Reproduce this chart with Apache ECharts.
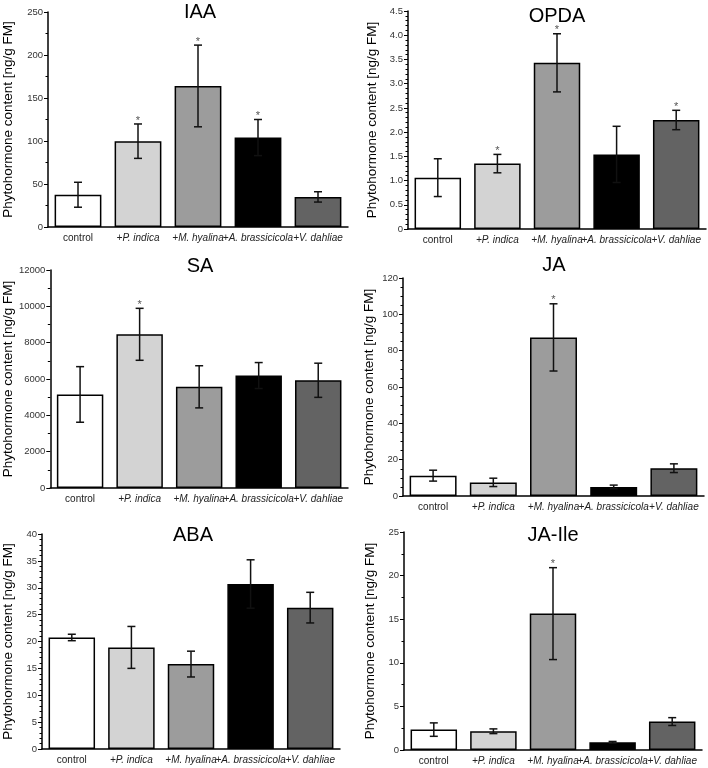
<!DOCTYPE html>
<html>
<head>
<meta charset="utf-8">
<script src="https://cdn.jsdelivr.net/npm/echarts@6/dist/echarts.min.js"></script>
<style>
html,body{margin:0;padding:0;background:#fff;}
#chart{width:708px;height:768px;}
</style>
</head>
<body>
<div id="chart"></div>
<script>
// ---- data ----
const categories = ['control', '+P. indica', '+M. hyalina', '+A. brassicicola', '+V. dahliae'];

const iaaMean = [37.5, 99.8, 164, 104, 35];
const iaaErr = [14.5, 20, 47.5, 21, 6];
const iaaSig = [0, 1, 1, 1, 0];

const opdaMean = [1.06, 1.35, 3.43, 1.54, 2.25];
const opdaErr = [0.39, 0.19, 0.6, 0.58, 0.2];
const opdaSig = [0, 1, 1, 0, 1];

const saMean = [5150, 8460, 5570, 6190, 5930];
const saErr = [1530, 1430, 1160, 715, 940];
const saSig = [0, 1, 0, 0, 0];

const jaMean = [11.2, 7.5, 87.3, 5, 15.3];
const jaErr = [3, 2.3, 18.5, 1, 2.4];
const jaSig = [0, 0, 1, 0, 0];

const abaMean = [20.75, 18.9, 15.8, 30.7, 26.3];
const abaErr = [0.6, 3.9, 2.4, 4.5, 2.85];
const abaSig = [0, 0, 0, 0, 0];

const jaIleMean = [2.34, 2.15, 15.64, 0.88, 3.26];
const jaIleErr = [0.77, 0.27, 5.27, 0.1, 0.45];
const jaIleSig = [0, 0, 1, 0, 0];

const titles = ['IAA', 'OPDA', 'SA', 'JA', 'ABA', 'JA-Ile'];
const yMax = [250, 4.5, 12000, 120, 40, 25];
const yInterval = [50, 0.5, 2000, 20, 5, 5];
const yMinorSplit = [2, 5, 2, 4, 5, 2];
const yDecimals = [0, 1, 0, 0, 0, 0];
const yAxisName = 'Phytohormone content [ng/g FM]';

// ---- styles / layout ----
const barColors = ['#ffffff', '#d3d3d3', '#9c9c9c', '#000000', '#636363'];
const panels = [
  {mean: iaaMean, err: iaaErr, sig: iaaSig},
  {mean: opdaMean, err: opdaErr, sig: opdaSig},
  {mean: saMean, err: saErr, sig: saSig},
  {mean: jaMean, err: jaErr, sig: jaSig},
  {mean: abaMean, err: abaErr, sig: abaSig},
  {mean: jaIleMean, err: jaIleErr, sig: jaIleSig}
];
const grids = [
  {left: 48, top: 12, width: 300, height: 215},
  {left: 408, top: 11, width: 298, height: 218},
  {left: 47, top: 270, width: 301, height: 218},
  {left: 403, top: 278, width: 301, height: 218},
  {left: 42, top: 534, width: 298, height: 215},
  {left: 404, top: 532, width: 298, height: 218}
];
const nameGaps = [33, 29, 32, 27, 27, 27];
const titlePos = [
  {x: 200, y: 2}, {x: 557, y: 6}, {x: 200, y: 256},
  {x: 554, y: 255}, {x: 193, y: 525}, {x: 553, y: 525}
];

const FONT = '"Liberation Sans", Arial, sans-serif';

const option = {
  animation: false,
  backgroundColor: '#ffffff',
  title: titles.map((t, i) => ({
    text: t,
    left: titlePos[i].x,
    top: titlePos[i].y,
    textAlign: 'center',
    padding: 0,
    textStyle: {fontFamily: FONT, fontSize: 20, fontWeight: 'normal', color: '#000'}
  })),
  grid: grids.map(g => Object.assign({containLabel: false}, g)),
  xAxis: grids.map((g, i) => ({
    type: 'category',
    gridIndex: i,
    data: categories,
    axisLine: {show: true, lineStyle: {color: '#000', width: 1.5}},
    axisTick: {show: false},
    axisLabel: {
      interval: 0,
      margin: 6,
      hideOverlap: false,
      formatter: v => v === 'control' ? '{n|' + v + '}' : '{i|' + v + '}',
      rich: {
        n: {fontFamily: FONT, fontSize: 10, color: '#222'},
        i: {fontFamily: FONT, fontSize: 10, fontStyle: 'italic', color: '#222'}
      }
    },
    splitLine: {show: false}
  })),
  yAxis: grids.map((g, i) => ({
    type: 'value',
    gridIndex: i,
    min: 0,
    max: yMax[i],
    interval: yInterval[i],
    name: yAxisName,
    nameLocation: 'middle',
    nameGap: nameGaps[i],
    nameTextStyle: {fontFamily: FONT, fontSize: 13.5, color: '#000'},
    axisLine: {show: true, lineStyle: {color: '#000', width: 1.5}},
    axisTick: {show: true, length: 4, lineStyle: {color: '#000', width: 1}},
    minorTick: {show: true, splitNumber: yMinorSplit[i], length: 2.5, lineStyle: {color: '#000', width: 1}},
    axisLabel: {
      margin: 5,
      fontFamily: FONT,
      fontSize: 9.5,
      color: '#333',
      formatter: v => v === 0 ? '0' : v.toFixed(yDecimals[i])
    },
    splitLine: {show: false}
  })),
  series: []
};

panels.forEach((p, i) => {
  option.series.push({
    type: 'bar',
    xAxisIndex: i,
    yAxisIndex: i,
    barWidth: '78%',
    data: p.mean.map((v, k) => ({
      value: v,
      itemStyle: {color: barColors[k], borderColor: '#000', borderWidth: 1.5}
    })),
    z: 2
  });
  option.series.push({
    type: 'custom',
    xAxisIndex: i,
    yAxisIndex: i,
    z: 5,
    encode: {x: 0, y: 1},
    data: p.mean.map((v, k) => [k, v, p.err[k], p.sig[k]]),
    renderItem: function (params, api) {
      const k = api.value(0);
      const m = api.value(1);
      const e = api.value(2);
      const s = api.value(3);
      const top = api.coord([k, m + e]);
      const bot = api.coord([k, m - e]);
      const hw = 4;
      const style = {stroke: '#111', lineWidth: 1.5};
      const children = [
        {type: 'line', shape: {x1: top[0], y1: top[1], x2: bot[0], y2: bot[1]}, style: style},
        {type: 'line', shape: {x1: top[0] - hw, y1: top[1], x2: top[0] + hw, y2: top[1]}, style: style},
        {type: 'line', shape: {x1: bot[0] - hw, y1: bot[1], x2: bot[0] + hw, y2: bot[1]}, style: style}
      ];
      if (s) {
        children.push({
          type: 'text',
          style: {
            x: top[0], y: top[1] + 2,
            text: '*',
            fill: '#555',
            font: '11px ' + FONT,
            textAlign: 'center',
            textVerticalAlign: 'bottom'
          }
        });
      }
      return {type: 'group', children: children};
    }
  });
});

const chart = echarts.init(document.getElementById('chart'), null, {renderer: 'canvas'});
chart.setOption(option);
</script>
</body>
</html>
